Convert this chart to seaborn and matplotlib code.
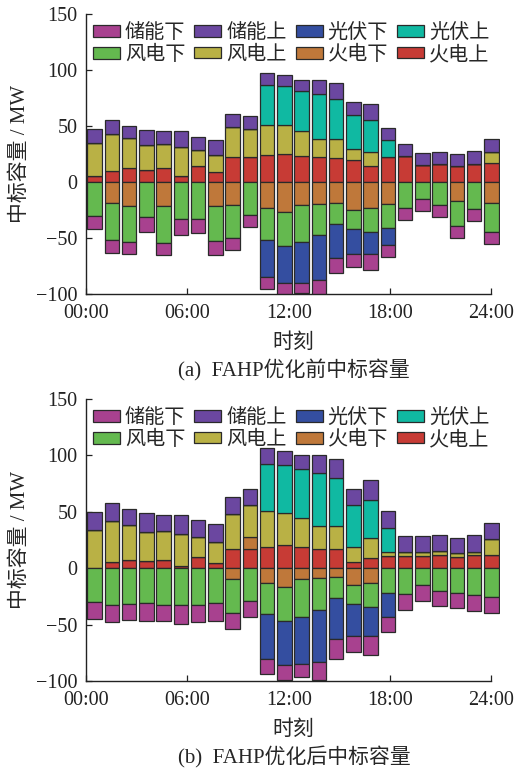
import numpy as np
import matplotlib
matplotlib.use('Agg')
import matplotlib.pyplot as plt
import seaborn as sns

# series names, legend order (row by row)
series = ['储能下', '储能上', '光伏下', '光伏上', '风电下', '风电上', '火电下', '火电上']
# order of stacking away from zero
stack_order = ['火电上', '火电下', '风电上', '风电下', '光伏上', '光伏下', '储能上', '储能下']
colors = {
    '储能下': '#a8418f', '储能上': '#6b47a0',
    '光伏下': '#344ea0', '光伏上': '#10b9a2',
    '风电下': '#64b94f', '风电上': '#b9b145',
    '火电下': '#bf783a', '火电上': '#c73b35',
}
hours = np.arange(24)
tick_labels = ['00:00', '06:00', '12:00', '18:00', '24:00']

# (a) before FAHP optimisation, MW
before_storage_down = [-11.9, -11.9, -11.3, -13.1, -11.0, -13.7, -11.9, -12.8, -10.7, -11.0, -11.0, -12.0,
                       -9.0, -13.0, -13.4, -11.0, -14.0, -11.0, -11.0, -11.0, -11.0, -11.3, -11.0, -10.7]
before_storage_up = [12.2, 12.5, 11.3, 13.4, 11.6, 14.6, 12.2, 13.4, 11.3, 11.3, 10.7, 10.1,
                     9.6, 12.5, 14.3, 11.0, 14.6, 11.0, 11.3, 11.3, 11.0, 11.3, 11.3, 11.6]
before_pv_down = [0, 0, 0, 0, 0, 0, 0, 0, 0, 0, -33.1, -33.4,
                  -36.1, -40.3, -30.4, -22.4, -20.0, -15.2, 0, 0, 0, 0, 0, 0]
before_pv_up = [0, 0, 0, 0, 0, 0, 0, 0, 0, 0, 35.8, 35.2,
                35.8, 40.3, 35.2, 30.4, 28.1, 14.9, 0, 0, 0, 0, 0, 0]
before_wind_down = [-30.1, -32.8, -32.2, -31.3, -33.1, -33.4, -33.4, -31.3, -30.1, -29.3, -28.4, -29.9,
                    -33.4, -27.8, -18.8, -16.7, -21.2, -21.8, -23.3, -15.2, -20.3, -21.8, -24.2, -25.7]
before_wind_up = [29.9, 32.5, 26.9, 22.1, 21.8, 25.4, 14.3, 15.2, 26.9, 25.1, 26.9, 25.4,
                  22.1, 16.1, 17.3, 9.9, 13.1, 0, 0, 0, 0, 0, 0, 9.9]
before_thermal_down = [0, -18.8, -21.2, 0, -21.2, 0, 0, -21.2, -20.3, 0, -23.3, -27.2,
                       -20.3, -19.4, -18.8, -25.4, -23.3, -19.4, 0, 0, 0, -17.3, 0, -18.8]
before_thermal_up = [5.1, 10.1, 12.2, 10.7, 12.2, 5.7, 14.0, 8.7, 22.1, 22.1, 24.2, 25.1,
                     23.6, 22.1, 21.2, 19.7, 14.0, 22.4, 23.0, 14.9, 16.1, 14.0, 16.1, 17.0]

# (b) after FAHP optimisation, MW
after_storage_down = [-14.5, -15.1, -14.2, -16.3, -14.5, -17.2, -15.1, -16.0, -13.6, -13.9, -13.9, -13.0,
                      -11.8, -16.0, -17.2, -14.5, -16.9, -13.9, -14.2, -13.9, -13.3, -13.6, -13.6, -13.9]
after_storage_up = [15.1, 15.7, 14.2, 16.3, 14.2, 17.5, 15.4, 16.3, 14.8, 14.2, 14.2, 13.0,
                    13.0, 16.6, 17.5, 14.2, 17.8, 14.5, 13.9, 13.9, 13.9, 13.9, 14.5, 13.9]
after_pv_down = [0, 0, 0, 0, 0, 0, 0, 0, 0, 0, -39.6, -39.3,
                 -42.0, -45.9, -36.4, -27.8, -26.0, -21.0, 0, 0, 0, 0, 0, 0]
after_pv_up = [0, 0, 0, 0, 0, 0, 0, 0, 0, 0, 41.7, 42.3,
               42.9, 47.0, 42.0, 37.0, 34.3, 21.3, 0, 0, 0, 0, 0, 0]
after_wind_down = [-30.2, -32.5, -31.7, -30.8, -32.5, -32.5, -32.5, -30.8, -30.2, -29.0, -27.2, -29.9,
                   -33.1, -28.1, -18.6, -17.2, -20.7, -21.9, -22.8, -14.8, -20.1, -21.9, -24.0, -25.7]
after_wind_up = [34.3, 36.7, 30.5, 25.7, 25.7, 28.1, 17.8, 18.6, 30.8, 29.0, 31.4, 28.4,
                 26.0, 19.8, 20.7, 13.9, 17.2, 3.8, 3.6, 3.6, 3.8, 3.8, 3.3, 14.2]
after_thermal_down = [0, 0, 0, 0, 0, 0, 0, 0, -9.8, 10.1, -13.3, -16.9,
                      -9.8, -8.9, -8.0, -14.8, -13.3, 0, 0, 0, 0, 0, 0, 0]
after_thermal_up = [0, 5.3, 7.7, 6.5, 7.4, 1.8, 9.5, 4.4, 17.2, 17.2, 19.2, 20.4,
                    18.6, 17.2, 16.9, 5.3, 9.2, 10.7, 10.7, 10.7, 11.5, 9.5, 11.5, 12.1]

before = dict(zip(series, [before_storage_down, before_storage_up, before_pv_down, before_pv_up,
                           before_wind_down, before_wind_up, before_thermal_down, before_thermal_up]))
after = dict(zip(series, [after_storage_down, after_storage_up, after_pv_down, after_pv_up,
                          after_wind_down, after_wind_up, after_thermal_down, after_thermal_up]))

sns.set_style('ticks')
plt.rcParams['font.family'] = ['Liberation Serif', 'Noto Sans CJK SC']
plt.rcParams['axes.unicode_minus'] = True


def draw(ax, data):
    pos_base = np.zeros(24)
    neg_base = np.zeros(24)
    for name in stack_order:
        v = np.asarray(data[name], dtype=float)
        bottom = np.where(v >= 0, pos_base, neg_base)
        sns.barplot(x=hours, y=v, bottom=bottom, color=colors[name], saturation=1,
                    width=0.84, edgecolor='#2a2a2a', linewidth=0.9, errorbar=None,
                    label=name, ax=ax)
        pos_base += np.clip(v, 0, None)
        neg_base += np.clip(v, None, 0)

    ax.set_xlim(-0.5, 23.5)
    ax.set_ylim(-100, 150)
    ax.set_yticks([-100, -50, 0, 50, 100, 150])
    ax.set_xticks(np.linspace(-0.5, 23, 5))
    ax.set_xticklabels(tick_labels)
    sns.despine(ax=ax)
    ax.spines['bottom'].set_bounds(-0.5, 23)
    for s in ['left', 'bottom']:
        ax.spines[s].set_color('#222222')
        ax.spines[s].set_linewidth(1.0)
    ax.tick_params(direction='in', length=4, width=0.9, labelsize=14.5, colors='#222222')
    ax.tick_params(axis='x', pad=7)
    ax.tick_params(axis='y', pad=6)
    ax.set_xlabel('时刻', fontsize=15)
    ax.set_ylabel('中标容量 / MW', fontsize=15)
    ax.yaxis.set_label_coords(-0.135, 0.5)

    handles, labels = ax.get_legend_handles_labels()
    lookup = dict(zip(labels, handles))
    # matplotlib fills legend columns first, so interleave the two rows
    order = [series[0], series[4], series[1], series[5], series[2], series[6], series[3], series[7]]
    ax.legend([lookup[n] for n in order], order, ncol=4, loc='upper left',
              bbox_to_anchor=(-0.008, 1.0), frameon=False, fontsize=14.5,
              handlelength=1.34, handleheight=0.5, handletextpad=0.25,
              columnspacing=0.45, labelspacing=0.14, borderpad=0)


fig = plt.figure(figsize=(5.19, 7.69), dpi=100)
ax_a = fig.add_axes([86 / 519, 1 - 294 / 769, 414 / 519, 280 / 769])
ax_b = fig.add_axes([86 / 519, 1 - 681 / 769, 414 / 519, 282 / 769])

draw(ax_a, before)
draw(ax_b, after)
ax_a.xaxis.set_label_coords(0.5, -0.14)
ax_b.xaxis.set_label_coords(0.5, -0.138)

fig.text(294 / 519, 1 - 370 / 769, '(a)  FAHP优化前中标容量', ha='center', va='center', fontsize=15)
fig.text(294 / 519, 1 - 757 / 769, '(b)  FAHP优化后中标容量', ha='center', va='center', fontsize=15)

fig.savefig('out.png', dpi=100)
